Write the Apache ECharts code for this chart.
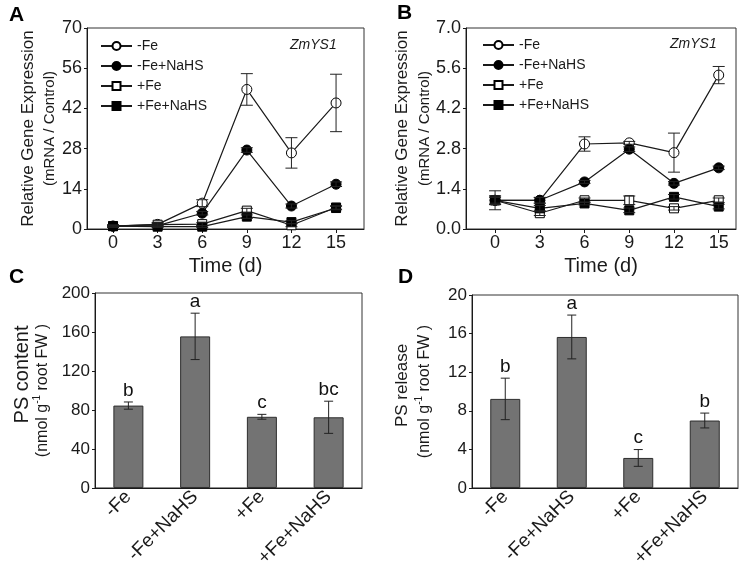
<!DOCTYPE html>
<html>
<head>
<meta charset="utf-8">
<script src="https://cdn.jsdelivr.net/npm/echarts@6/dist/echarts.min.js"></script>
<style>
	html, body { margin: 0; background: #fff; }
	#chart { width: 743px; height: 570px; }
</style>
</head>
<body>
<div id="chart"></div>
<script>
// ---- data ----
const days = [0, 3, 6, 9, 12, 15];
const seriesNames = ["-Fe", "-Fe+NaHS", "+Fe", "+Fe+NaHS"];

// panel A, ZmYS1 relative expression
const aFe = [1.0, 1.6, 9.0, 48.6, 26.5, 43.9];
const aFeErr = [0.4, 0.6, 1.2, 5.5, 5.3, 10.0];
const aFeNaHS = [1.0, 1.2, 5.5, 27.5, 8.0, 15.6];
const aFeNaHSErr = [0.3, 0.3, 0.6, 0.8, 0.7, 0.8];
const aPlusFe = [1.0, 1.5, 1.7, 6.4, 1.3, 7.5];
const aPlusFeErr = [0.3, 0.5, 0.5, 0.8, 0.5, 0.6];
const aPlusFeNaHS = [1.0, 0.8, 0.8, 4.3, 2.4, 7.3];
const aPlusFeNaHSErr = [0.3, 0.3, 0.3, 0.6, 0.5, 0.6];

// panel B
const bFe = [1.0, 1.0, 2.96, 3.0, 2.66, 5.36];
const bFeErr = [0.33, 0.1, 0.25, 0.05, 0.68, 0.3];
const bFeNaHS = [1.0, 1.0, 1.64, 2.78, 1.59, 2.13];
const bFeNaHSErr = [0.1, 0.1, 0.05, 0.08, 0.06, 0.06];
const bPlusFe = [1.0, 0.55, 1.0, 1.0, 0.72, 1.0];
const bPlusFeErr = [0.15, 0.08, 0.08, 0.15, 0.06, 0.08];
const bPlusFeNaHS = [1.0, 0.72, 0.89, 0.65, 1.12, 0.78];
const bPlusFeNaHSErr = [0.15, 0.1, 0.05, 0.08, 0.08, 0.08];

// panels C and D
const treatments = ["-Fe", "-Fe+NaHS", "+Fe", "+Fe+NaHS"];
const psContent = [84.5, 155.5, 73, 72.5];
const psContentErr = [3.7, 23.8, 2.5, 16.5];
const psContentLetters = ["b", "a", "c", "bc"];
const psRelease = [9.23, 15.65, 3.11, 6.99];
const psReleaseErr = [2.15, 2.27, 0.87, 0.77];
const psReleaseLetters = ["b", "a", "c", "b"];

// ---- helpers ----
const FONT = "Liberation Sans, Arial, sans-serif";
const INK = "#1a1a1a";

const markers = [
	{ symbol: "circle", fill: "#fff", size: 10 },
	{ symbol: "circle", fill: "#000", size: 10 },
	{ symbol: "rect", fill: "#fff", size: 9 },
	{ symbol: "rect", fill: "#000", size: 9 }
];

const errorBars = (capWidth, letters) => (params, api) => {
	const x = api.value(0);
	const y = api.value(1);
	const e = api.value(2);
	const hi = api.coord([x, y + e]);
	const lo = api.coord([x, y - e]);
	const style = { stroke: "#222", lineWidth: 1 };
	const children = [
		{ type: "line", shape: { x1: hi[0], y1: hi[1], x2: lo[0], y2: lo[1] }, style },
		{ type: "line", shape: { x1: hi[0] - capWidth / 2, y1: hi[1], x2: hi[0] + capWidth / 2, y2: hi[1] }, style },
		{ type: "line", shape: { x1: lo[0] - capWidth / 2, y1: lo[1], x2: lo[0] + capWidth / 2, y2: lo[1] }, style }
	];
	if (letters) {
		children.push({
			type: "text", x: hi[0], y: hi[1] - 2,
			style: { text: letters[params.dataIndex], align: "center", verticalAlign: "bottom", fontSize: 19, fontFamily: FONT, fill: "#111" }
		});
	}
	return { type: "group", children };
};

const lineSeries = (values, errors, axisIndex) => {
	const out = [];
	values.forEach((vals, i) => {
		const m = markers[i];
		out.push({
			type: "line", name: seriesNames[i], xAxisIndex: axisIndex, yAxisIndex: axisIndex,
			data: days.map((d, k) => [d, vals[k]]),
			symbol: m.symbol, symbolSize: m.size, showAllSymbol: true,
			lineStyle: { color: INK, width: 1.2 },
			itemStyle: { color: m.fill, borderColor: "#000", borderWidth: 1 },
			z: 3 + i, silent: true
		});
		out.push({
			type: "custom", xAxisIndex: axisIndex, yAxisIndex: axisIndex,
			data: days.map((d, k) => [d, vals[k], errors[i][k]]),
			renderItem: errorBars(12), z: 10, silent: true
		});
	});
	return out;
};

const barSeries = (values, errors, letters, axisIndex) => [
	{ type: "bar", xAxisIndex: axisIndex, yAxisIndex: axisIndex, data: values, barWidth: 30,
		itemStyle: { color: "#737373", borderColor: "#2e2e2e", borderWidth: 1 }, silent: true },
	{ type: "custom", xAxisIndex: axisIndex, yAxisIndex: axisIndex, data: values.map((v, i) => [i, v, errors[i]]),
		renderItem: errorBars(9, letters), z: 10, silent: true }
];

const timeAxis = (gridIndex, min, max) => ({
	type: "value", gridIndex, min, max, name: "Time (d)", nameLocation: "middle", nameGap: 27,
	nameTextStyle: { fontSize: 20, color: INK },
	axisLine: { onZero: false, lineStyle: { color: INK } },
	axisTick: { show: true, length: 4, customValues: days, lineStyle: { color: INK } },
	axisLabel: { customValues: days, fontSize: 18, color: INK, margin: 5 },
	splitLine: { show: false }
});

const catAxis = gridIndex => ({
	type: "category", gridIndex, data: treatments,
	axisLine: { onZero: false, lineStyle: { color: INK } },
	axisTick: { show: false },
	axisLabel: { rotate: 45, fontSize: 19, color: INK, margin: 6, interval: 0, padding: [16, 0, 0, 0] }
});

const valueAxis = (gridIndex, min, max, interval, fontSize, name, rich, nameGap, formatter) => ({
	type: "value", gridIndex, min, max, interval, name, nameLocation: "middle", nameRotate: 90, nameGap,
	nameTextStyle: { color: INK, rich },
	axisLine: { show: true, onZero: false, lineStyle: { color: INK } },
	axisTick: { show: true, length: 3, lineStyle: { color: INK } },
	axisLabel: { fontSize, color: INK, margin: 5, formatter },
	splitLine: { show: false }
});

const gridBox = { show: true, borderColor: "#333", borderWidth: 1, backgroundColor: "transparent" };

const legend = (left, top) => ({
	left, top, orient: "vertical", padding: 0, itemWidth: 31, itemHeight: 10, itemGap: 6, selectedMode: false,
	data: seriesNames, textStyle: { fontSize: 14, lineHeight: 12, color: INK }
});

const panelTitle = (text, left, top) => ({
	text, left, top, padding: 0,
	textStyle: { fontSize: 21, fontWeight: "bold", color: "#000", fontFamily: FONT }
});

const chart = echarts.init(document.getElementById("chart"));
chart.setOption({
	animation: false,
	textStyle: { fontFamily: FONT },
	title: [panelTitle("A", 9, 5), panelTitle("B", 397, 3), panelTitle("C", 9, 267), panelTitle("D", 398, 267)],
	legend: [legend(100, 39), legend(482, 38)],
	grid: [
		{ left: 87, top: 28, width: 277, height: 201, ...gridBox },
		{ left: 466, top: 28, width: 270, height: 201, ...gridBox },
		{ left: 95, top: 293, width: 267, height: 200, ...gridBox },
		{ left: 472, top: 295, width: 266, height: 199, ...gridBox }
	],
	xAxis: [timeAxis(0, -1.75, 16.88), timeAxis(1, -1.95, 16.16), catAxis(2), catAxis(3)],
	yAxis: [
		valueAxis(0, 0, 70, 14, 18, "{a|Relative Gene Expression}\n{b|(mRNA / Control)}",
			{ a: { fontSize: 17, lineHeight: 27, color: INK }, b: { fontSize: 15, lineHeight: 16, color: INK } }, 29),
		valueAxis(1, 0, 7, 1.4, 18, "{a|Relative Gene Expression}\n{b|(mRNA / Control)}",
			{ a: { fontSize: 17, lineHeight: 29, color: INK }, b: { fontSize: 15, lineHeight: 16, color: INK } }, 31, v => v.toFixed(1)),
		valueAxis(2, 0, 200, 40, 17, "{a|PS content}\n{b|(nmol g}{s|-1}{b| root FW )}",
			{ a: { fontSize: 20, lineHeight: 24, color: INK, padding: [0, 0, 0, 32] }, b: { fontSize: 16, lineHeight: 17, color: INK },
				s: { fontSize: 10, lineHeight: 17, color: INK, padding: [0, 0, 10, 0] } }, 44),
		valueAxis(3, 0, 20, 4, 17, "{a|PS release}\n{b|(nmol g}{s|-1}{b| root FW )}",
			{ a: { fontSize: 17, lineHeight: 28, color: INK, padding: [0, 0, 0, 12] }, b: { fontSize: 16, lineHeight: 17, color: INK },
				s: { fontSize: 10, lineHeight: 17, color: INK, padding: [0, 0, 10, 0] } }, 39)
	],
	graphic: [
		{ type: "text", left: 290, top: 38, style: { text: "ZmYS1", font: "italic 14px " + FONT, fill: INK } },
		{ type: "text", left: 670, top: 37, style: { text: "ZmYS1", font: "italic 14px " + FONT, fill: INK } }
	],
	series: [
		...lineSeries([aFe, aFeNaHS, aPlusFe, aPlusFeNaHS], [aFeErr, aFeNaHSErr, aPlusFeErr, aPlusFeNaHSErr], 0),
		...lineSeries([bFe, bFeNaHS, bPlusFe, bPlusFeNaHS], [bFeErr, bFeNaHSErr, bPlusFeErr, bPlusFeNaHSErr], 1),
		...barSeries(psContent, psContentErr, psContentLetters, 2),
		...barSeries(psRelease, psReleaseErr, psReleaseLetters, 3)
	]
});
</script>
</body>
</html>
